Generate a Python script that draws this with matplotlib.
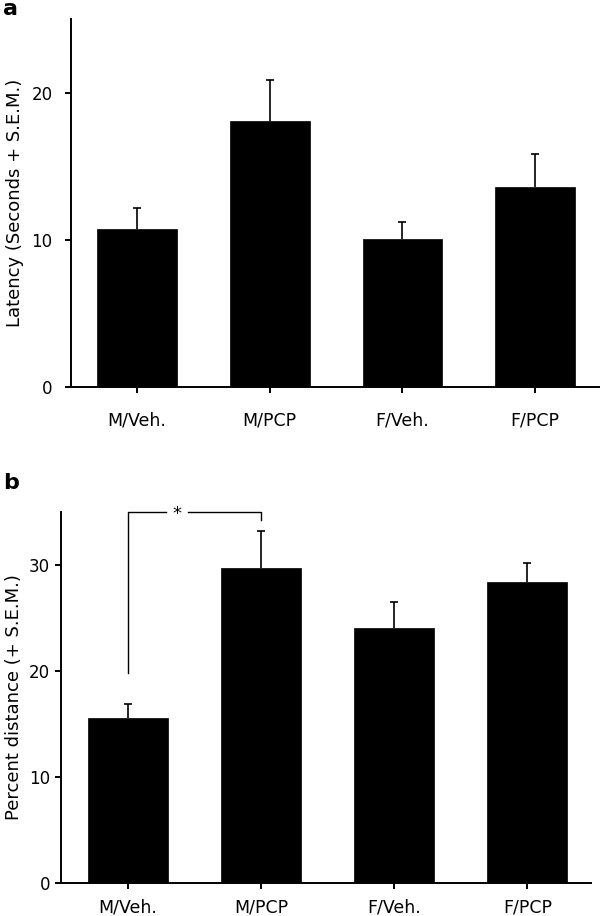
import matplotlib
matplotlib.use("Agg")
import matplotlib.pyplot as plt
import numpy as np

plt.rcParams['font.family'] = ['DejaVu Sans']

groups = ["M/Veh.", "M/PCP", "F/Veh.", "F/PCP"]
latency_mean = [10.75, 18.07, 10.03, 13.6]
latency_sem = [1.43, 2.79, 1.17, 2.2]
distance_mean = [15.57, 29.7, 24.0, 28.35]
distance_sem = [1.29, 3.45, 2.5, 1.85]
yticks_a = [0, 10, 20]
yticks_b = [0, 10, 20, 30]

fig = plt.figure(figsize=(6.0, 9.16), dpi=100)

def panel(rect, means, sems, ylim, yticks, ylabel, xpad, ypad, ylabel_x):
    ax = fig.add_axes(rect)
    x = np.arange(len(groups))
    ax.bar(x, means, width=0.6, color='black', edgecolor='black', linewidth=0.5, zorder=2)
    eb = ax.errorbar(x, means, yerr=[np.zeros(len(sems)), sems], fmt='none',
                     ecolor='black', elinewidth=1.2, capsize=3, capthick=1.2, zorder=1)
    for cl in eb[1]:
        if np.allclose(cl.get_ydata(), means):
            cl.set_visible(False)
    ax.set_xlim(-0.5, 3.48)
    ax.set_ylim(*ylim)
    ax.set_yticks(yticks)
    ax.set_xticks(x)
    ax.set_xticklabels(groups, fontsize=12.5)
    for s in ['top', 'right']:
        ax.spines[s].set_visible(False)
    for s in ['left', 'bottom']:
        ax.spines[s].set_linewidth(1.4)
    ax.tick_params(axis='both', direction='out', length=4.5, width=1.4)
    ax.tick_params(axis='y', labelsize=12, pad=ypad)
    ax.tick_params(axis='x', pad=xpad)
    ax.set_ylabel(ylabel, fontsize=13)
    ycenter = rect[1] + rect[3] / 2
    ax.yaxis.set_label_coords(ylabel_x, ycenter, transform=fig.transFigure)
    return ax

ax_a = panel([0.118, 0.578, 0.880, 0.401], latency_mean, latency_sem, (0, 25),
             yticks_a, "Latency (Seconds + S.E.M.)", 13.5, 8.5, 0.040)
ax_b = panel([0.1017, 0.0364, 0.884, 0.405], distance_mean, distance_sem, (0, 35),
             yticks_b, "Percent distance (+ S.E.M.)", 7, 3.5, 0.039)

# significance bracket between M/Veh. and M/PCP
bx0, bx1 = 0, 1
gap0, gap1 = 0.29, 0.454
ytop = 35.0
kw = dict(color='black', lw=1.0, clip_on=False)
ax_b.plot([bx0, bx0, gap0], [19.8, ytop, ytop], **kw)
ax_b.plot([gap1, bx1, bx1], [ytop, ytop, 34.2], **kw)
ax_b.text((gap0 + gap1) / 2, ytop - 0.2, "*", ha='center', va='center', fontsize=13)

fig.text(0.005, 1 - 15 / 916, "a", fontsize=16, fontweight='bold', ha='left', va='baseline')
fig.text(0.005, 1 - 489 / 916, "b", fontsize=16, fontweight='bold', ha='left', va='baseline')

fig.savefig("out.png", dpi=100)
